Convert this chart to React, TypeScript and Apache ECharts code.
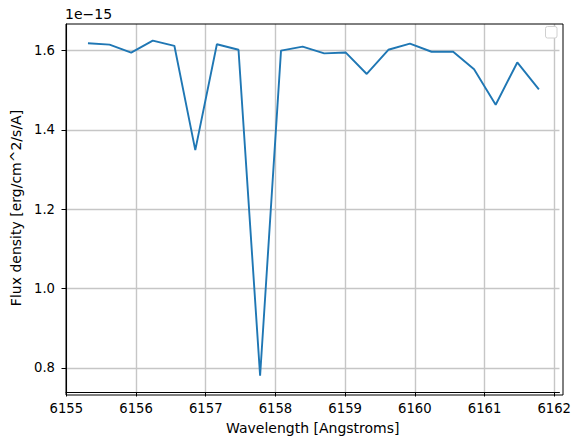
import React, { useEffect, useRef } from "react";
import * as echarts from "echarts";

const wavelengths = [
  6155.31, 6155.62, 6155.93, 6156.24, 6156.55, 6156.85, 6157.16, 6157.47,
  6157.78, 6158.08, 6158.39, 6158.7, 6159.01, 6159.31, 6159.62, 6159.93,
  6160.24, 6160.55, 6160.85, 6161.16, 6161.47, 6161.78,
];
const fluxes = [
  1.6185e-15, 1.615e-15, 1.595e-15, 1.625e-15, 1.612e-15, 1.349e-15,
  1.616e-15, 1.602e-15, 0.78e-15, 1.6e-15, 1.61e-15, 1.593e-15, 1.595e-15,
  1.541e-15, 1.602e-15, 1.6175e-15, 1.597e-15, 1.597e-15, 1.553e-15,
  1.4635e-15, 1.57e-15, 1.502e-15,
];
const xTicks = [6155, 6156, 6157, 6158, 6159, 6160, 6161, 6162];
const yTicks = [0.8e-15, 1.0e-15, 1.2e-15, 1.4e-15, 1.6e-15];
const OFFSET = 1e-15;

const FONT = "DejaVu Sans";
const FS = 13.2;
const NFS = 14;

export default function App() {
  const ref = useRef<HTMLDivElement>(null);
  useEffect(() => {
    document.body.style.margin = "0";
    const chart = echarts.init(ref.current!, null, { renderer: "svg" });
    const data = wavelengths.map((w, i) => [w, fluxes[i]]);
    chart.setOption({
      animation: false,
      backgroundColor: "#ffffff",
      grid: { left: 66, top: 24, right: 11, bottom: 45, containLabel: false },
      xAxis: {
        type: "value",
        min: 6154.995,
        max: 6162.075,
        name: "Wavelength [Angstroms]",
        nameLocation: "middle",
        nameGap: 29,
        nameTextStyle: { fontFamily: FONT, fontSize: NFS, color: "#000" },
        axisLine: { show: true, onZero: false, lineStyle: { color: "#000", width: 1 } },
        axisTick: { show: true, length: 4.5, customValues: xTicks, lineStyle: { color: "#000", width: 1 } },
        axisLabel: {
          customValues: xTicks,
          margin: 10,
          fontFamily: FONT,
          fontSize: FS,
          color: "#000",
          formatter: (v: number) => String(Math.round(v)),
        },
        splitLine: { show: true, lineStyle: { color: "#c6c6c6", width: 1.4 } },
      },
      yAxis: {
        type: "value",
        min: 0.739e-15,
        max: 1.667e-15,
        name: "Flux density [erg/cm^2/s/A]",
        nameLocation: "middle",
        nameGap: 39,
        nameTextStyle: { fontFamily: FONT, fontSize: NFS, color: "#000" },
        axisLine: { show: true, onZero: false, lineStyle: { color: "#000", width: 1 } },
        axisTick: { show: true, length: 4.5, customValues: yTicks, lineStyle: { color: "#000", width: 1 } },
        axisLabel: {
          customValues: yTicks,
          margin: 11,
          fontFamily: FONT,
          fontSize: FS,
          color: "#000",
          formatter: (v: number) => (v / OFFSET).toFixed(1),
        },
        splitLine: { show: true, lineStyle: { color: "#c6c6c6", width: 1.4 } },
      },
      graphic: [
        {
          type: "rect",
          shape: { x: 66, y: 24, width: 497, height: 371 },
          style: { fill: "none", stroke: "#000", lineWidth: 1 },
          silent: true,
          z: 10,
        },
        {
          type: "text",
          left: 65,
          top: 7,
          style: { text: "1e\u221215", fontFamily: FONT, fontSize: NFS, fill: "#000" },
        },
        {
          type: "rect",
          shape: { x: 545.5, y: 26.5, width: 11.5, height: 11.5, r: 2 },
          style: { fill: "#ffffff", stroke: "#d0d0d0", lineWidth: 1 },
          z: 11,
        },
      ],
      series: [
        {
          type: "line",
          data,
          showSymbol: false,
          lineStyle: { color: "#1f77b4", width: 1.9 },
          itemStyle: { color: "#1f77b4" },
        },
      ],
    });
    return () => chart.dispose();
  }, []);
  return <div ref={ref} style={{ width: 574, height: 440 }} />;
}
